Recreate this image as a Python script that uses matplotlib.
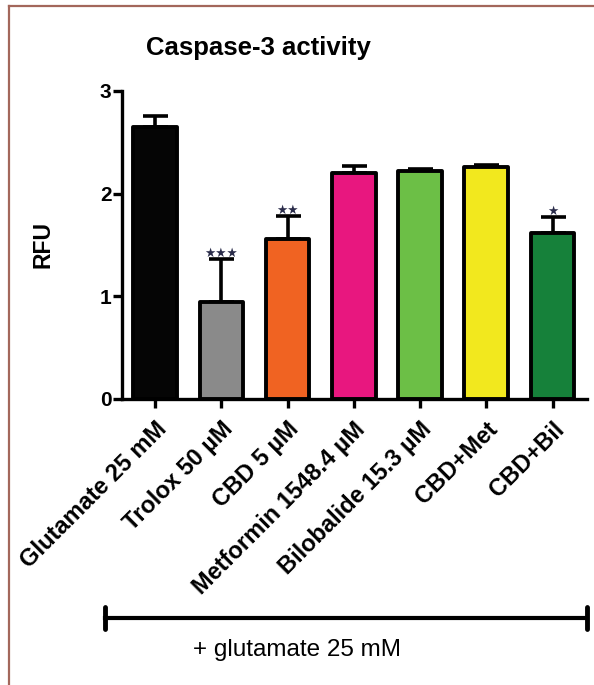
import numpy as np
import matplotlib.pyplot as plt
from matplotlib.lines import Line2D

plt.rcParams['font.family'] = ['Liberation Sans', 'DejaVu Sans']

groups = ["Glutamate 25 mM", "Trolox 50 µM", "CBD 5 µM", "Metformin 1548.4 µM",
          "Bilobalide 15.3 µM", "CBD+Met", "CBD+Bil"]
rfu = [2.65, 0.94, 1.56, 2.20, 2.22, 2.255, 1.62]
rfu_err = [0.11, 0.42, 0.22, 0.07, 0.02, 0.02, 0.155]
signif = ["", "***", "**", "", "", "", "*"]
colors = ["#050505", "#8a8a8a", "#f06322", "#e8177f", "#6cbf46", "#f2e81e", "#16813a"]

W, H = 594, 685
fig = plt.figure(figsize=(W / 100, H / 100), dpi=100)
ax = fig.add_axes([122 / W, 1 - 399 / H, 465 / W, (399 - 91) / H])

x = np.arange(len(groups))
ax.bar(x, rfu, width=0.66, color=colors, edgecolor="black", linewidth=2.8,
       joinstyle="round", zorder=3)
ax.errorbar(x, rfu, yerr=[np.zeros(len(x)), rfu_err], fmt="none", ecolor="black",
            elinewidth=2.6, capsize=9, capthick=2.6, zorder=2)

for xi, yi, ei, s in zip(x, rfu, rfu_err, signif):
    if s:
        ax.text(xi, yi + ei - 0.01, "★" * len(s), ha="center", va="bottom",
                fontsize=9, color="#2a2c4a", family="DejaVu Sans", zorder=4)

ax.set_xlim(-0.5, 6.52)
ax.set_ylim(0, 3)
ax.set_yticks([0, 1, 2, 3])
ax.set_xticks(x)
ax.set_xticklabels(groups, rotation=45, ha="right", va="top", rotation_mode="anchor",
                   fontsize=17, fontweight="bold")
for lbl in ax.get_yticklabels():
    lbl.set_fontweight("bold")
    lbl.set_fontsize(15)
ax.tick_params(axis="both", width=2.4, length=6.5, color="black")
ax.tick_params(axis="x", pad=7)
ax.tick_params(axis="y", pad=1)
for side in ["top", "right"]:
    ax.spines[side].set_visible(False)
for side in ["left", "bottom"]:
    ax.spines[side].set_linewidth(2.4)

fig.text(258 / W, 1 - 48 / H, "Caspase-3 activity", ha="center", va="center",
         fontsize=18.5, fontweight="bold")
fig.text(43 / W, 1 - 244 / H, "RFU", ha="center", va="center", rotation=90,
         fontsize=16.5, fontweight="bold")

# treatment bracket under the labels
y_br = 1 - 618 / H
cap = 11 / H
fig.add_artist(Line2D([105 / W, 587 / W], [y_br, y_br], color="black", lw=3,
                      transform=fig.transFigure))
for xe in [105 / W, 587 / W]:
    fig.add_artist(Line2D([xe, xe], [y_br - cap, y_br + cap], color="black", lw=3.5,
                          solid_capstyle="round", transform=fig.transFigure))
fig.text(193 / W, 1 - 650 / H, "+ glutamate 25 mM", ha="left", va="center", fontsize=17.5)

# frame lines at the left and top
border = "#a3675b"
fig.add_artist(Line2D([8.5 / W, 8.5 / W], [0, 1 - 6 / H], color=border, lw=1.6,
                      transform=fig.transFigure))
fig.add_artist(Line2D([8.5 / W, 1], [1 - 6 / H, 1 - 6 / H], color=border, lw=1.6,
                      transform=fig.transFigure))

fig.savefig("out.png", dpi=100)
